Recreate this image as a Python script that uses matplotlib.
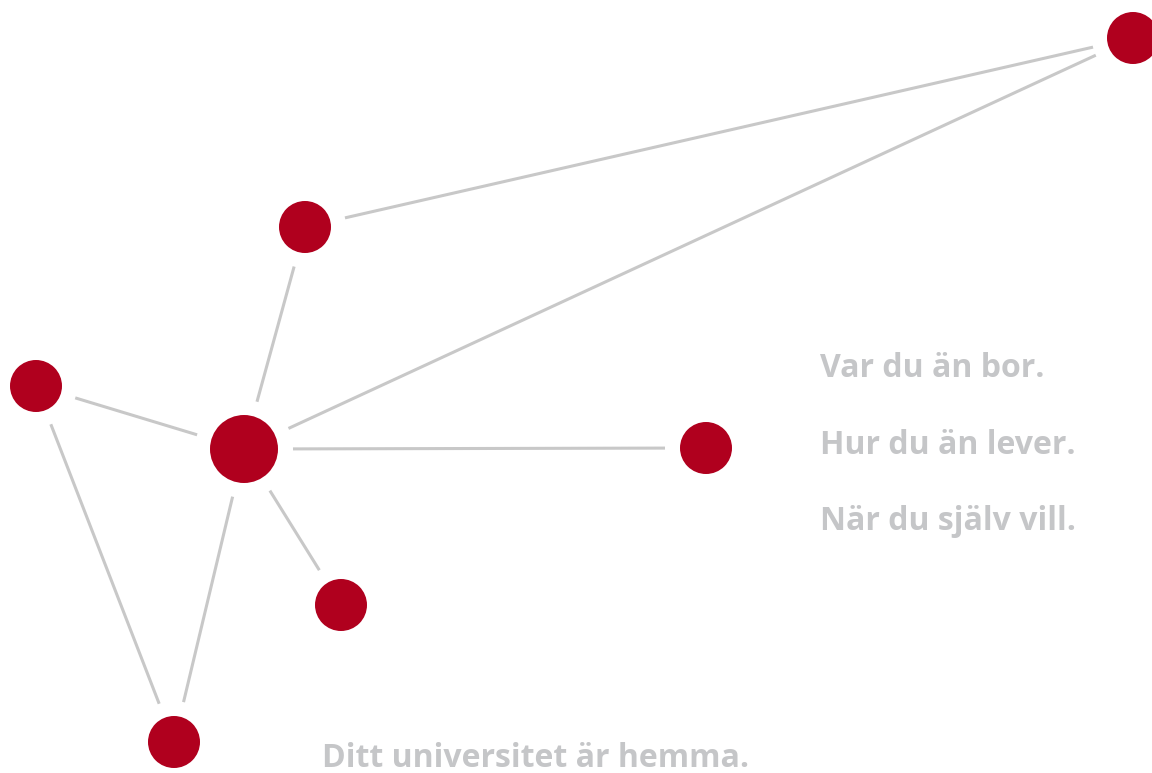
import numpy as np
import matplotlib.pyplot as plt
from matplotlib.patches import Circle

# nodes in pixel coords of the picture (x, y from top-left)
node_names = ["A", "B", "C", "D", "E", "F", "G"]
node_x = [1133, 305, 36, 244, 706, 341, 174]
node_y = [38, 227, 386, 449, 448, 605, 742]
node_r = [26, 26, 26, 34, 26, 26, 26]

edges = [("B", "A"), ("D", "A"), ("B", "D"), ("C", "D"),
         ("C", "G"), ("D", "E"), ("D", "F"), ("D", "G")]

side_lines = ["Var du än bor.", "Hur du än lever.", "När du själv vill."]
bottom_line = "Ditt universitet är hemma."

red = "#B0001E"
grey_line = "#C8C8C8"
grey_text = "#C5C6C8"
gap = 15

W, H = 1152, 773
fig = plt.figure(figsize=(W / 100, H / 100), dpi=100)
ax = fig.add_axes([0, 0, 1, 1])
ax.set_xlim(0, W)
ax.set_ylim(H, 0)
ax.set_aspect("equal")
ax.axis("off")

idx = {n: i for i, n in enumerate(node_names)}
for a, b in edges:
    i, j = idx[a], idx[b]
    p = np.array([node_x[i], node_y[i]], float)
    q = np.array([node_x[j], node_y[j]], float)
    u = (q - p) / np.hypot(*(q - p))
    s = p + u * (node_r[i] + gap)
    e = q - u * (node_r[j] + gap)
    ax.plot([s[0], e[0]], [s[1], e[1]], color=grey_line, lw=2.2,
            solid_capstyle="butt", zorder=1)

for x, y, r in zip(node_x, node_y, node_r):
    ax.add_patch(Circle((x, y), r, color=red, lw=0, zorder=2))

for k, t in enumerate(side_lines):
    ax.text(820, 377 + k * 76.5, t, fontsize=23, fontweight="bold",
            family="Open Sans", color=grey_text, ha="left", va="baseline")
ax.text(322, 767, bottom_line, fontsize=23, fontweight="bold",
        family="Open Sans", color=grey_text, ha="left", va="baseline")

plt.savefig("out.png", dpi=100)
